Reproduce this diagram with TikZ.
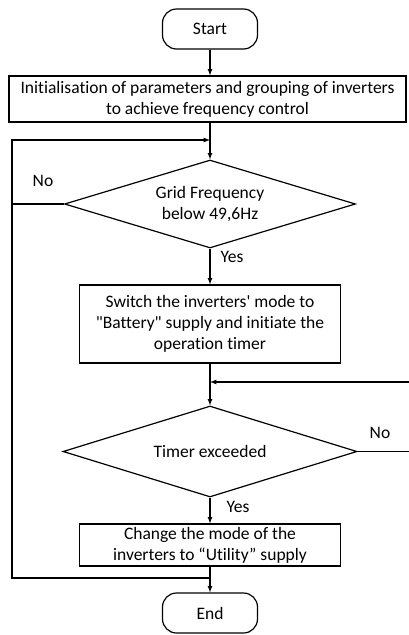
\documentclass[tikz,border=0pt]{standalone}
\usepackage{fontspec}
\setmainfont{Carlito}[Ligatures={TeX,NoCommon}]
\usetikzlibrary{arrows,positioning,shapes.geometric}

\begin{document}
\begin{tikzpicture}[x=1pt,y=-1pt,
			term/.style={rectangle,rounded corners=14pt,draw=black,line width=1.2pt,minimum width=95pt,minimum height=40pt,inner sep=0pt},
			proc/.style={rectangle,draw=black,line width=1.2pt,align=center,inner sep=0pt},
			dec/.style={diamond,draw=black,line width=1.2pt,aspect=3.3,inner sep=0pt,align=center},
			flow/.style={->,>=latex,black,line width=1.2pt},
			font=\fontsize{17.5}{21}\selectfont]
		\useasboundingbox (0,0) rectangle (408,635);
		\path 	(210,29) 	node 	(start) [term] {Start}
		        (207.5,99) 	node 	(init) [proc, minimum width=397pt, minimum height=46pt] {Initialisation of parameters and grouping of inverters\\to achieve frequency control}
		        (210,204) 	node 	(grid) [dec, minimum width=291pt, minimum height=88pt] {Grid Frequency\\below 49,6Hz}
		        (210,324) 	node 	(batt) [proc, minimum width=261pt, minimum height=78pt] {Switch the inverters\textquotesingle{} mode to\\\textquotedbl Battery\textquotedbl{} supply and initiate the\\operation timer}
		        (210,451.5) node 	(timer) [dec, minimum width=294pt, minimum height=91pt] {Timer exceeded}
		        (210,545) 	node 	(util) [proc, minimum width=261pt, minimum height=42pt] {Change the mode of the\\inverters to “Utility” supply}
		        (210,613) 	node 	(end) [term] {End};
		\path 	(43,181) 	node 	(no1) {No}
		        (217,257) 	node 	(yes1) [anchor=west] {Yes}
		        (380,433) 	node 	(no2) {No}
		        (223,507) 	node 	(yes2) [anchor=west] {Yes};
		\coordinate (lx) at (12,140);
		\coordinate (ltop) at (210,140);
		\coordinate (lbot) at (210,578);
		\coordinate (lno) at (12,204);
		\coordinate (rx) at (410,451.5);
		\coordinate (rtop) at (210,382);
		\draw [flow] (start.south) -- (start.south |- init.north);
		\draw [flow] (init.south -| grid.north) -- (grid.north);
		\draw [flow] (lbot) -| (lx) -- (ltop);
		\draw [black,line width=1.2pt] (grid.west) -- (lno);
		\draw [flow] (grid) -- (batt);
		\draw [flow] (batt) -- (timer);
		\draw [flow] (timer.east) -- (rx) |- (rtop);
		\draw [flow] (timer) -- (util);
		\draw [flow] (util) -- (end);
	\end{tikzpicture}
\end{document}
